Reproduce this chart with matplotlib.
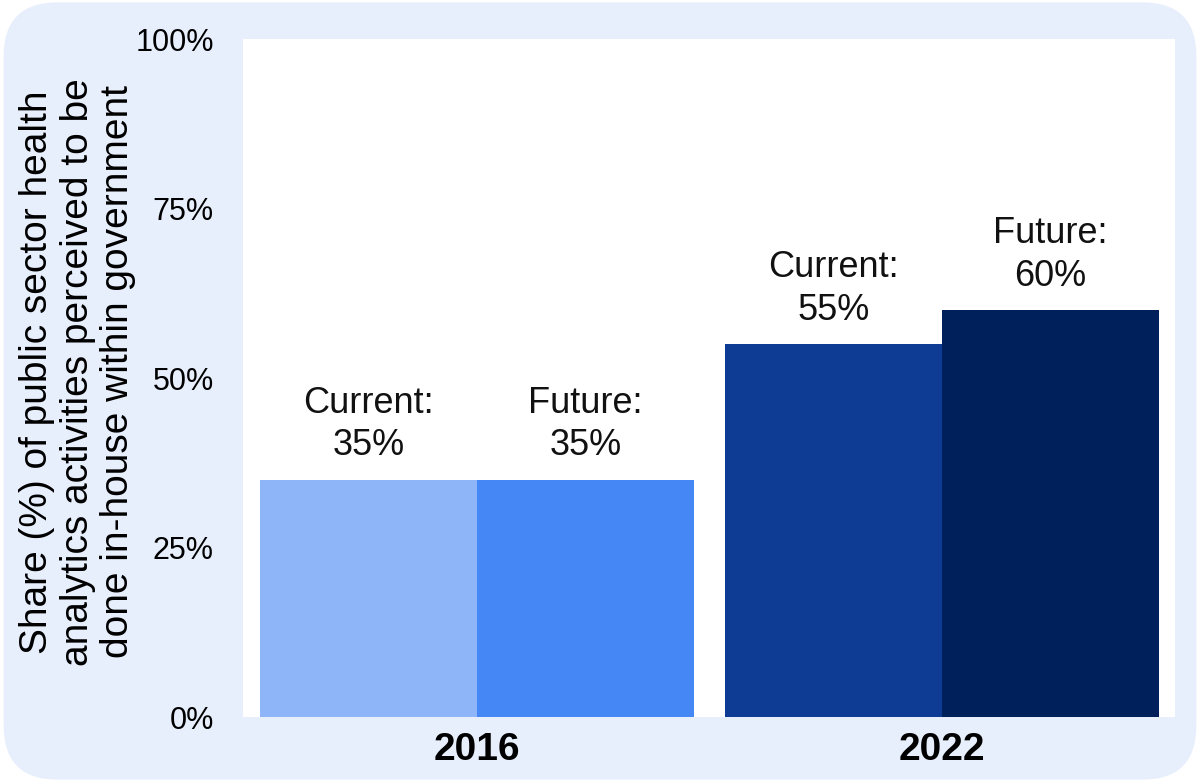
import numpy as np
import matplotlib.pyplot as plt
from matplotlib.patches import FancyBboxPatch

plt.rcParams['font.family'] = ['Liberation Sans', 'DejaVu Sans']

years = ['2016', '2022']
series = ['Current', 'Future']
current = [35, 55]
future = [35, 60]
colors = {
    '2016': ['#8fb5f9', '#4487f5'],
    '2022': ['#0e3c95', '#00205c'],
}

fig = plt.figure(figsize=(12, 7.82), dpi=100)
fig.patch.set_facecolor('white')
bg = FancyBboxPatch((0.003, 0.003), 0.994, 0.994,
                    boxstyle='round,pad=0,rounding_size=0.045',
                    transform=fig.transFigure, facecolor='#e8effc',
                    edgecolor='none', zorder=-10, mutation_aspect=1200 / 782)
fig.patches.append(bg)

ax = fig.add_axes([0.2025, 0.083, 0.7765, 0.867])
ax.set_facecolor('white')

x = np.arange(len(years))
width = 0.467
for i, yr in enumerate(years):
    vals = [current[i], future[i]]
    for j, name in enumerate(series):
        xpos = x[i] + (j - 0.5) * width
        ax.bar(xpos, vals[j], width, color=colors[yr][j], linewidth=0)
        ax.annotate(f'{name}:\n{vals[j]}%', (xpos, vals[j]),
                    xytext=(0, 12), textcoords='offset points',
                    ha='center', va='bottom', fontsize=26,
                    linespacing=1.27, color='#111111')

ax.set_xlim(-0.503, 1.501)
ax.set_ylim(0, 100)
ax.set_yticks([0, 25, 50, 75, 100])
ax.set_yticklabels(['0%', '25%', '50%', '75%', '100%'], fontsize=22)
ax.set_xticks(x)
ax.set_xticklabels(years, fontsize=28, fontweight='bold')
ax.tick_params(axis='both', length=0)
ax.tick_params(axis='y', pad=21)
ax.tick_params(axis='x', pad=11)
for s in ax.spines.values():
    s.set_visible(False)

ax.set_ylabel('Share (%) of public sector health\n'
              'analytics activities perceived to be\n'
              'done in-house within government',
              fontsize=28, linespacing=1.15)
ax.yaxis.set_label_coords(-0.115, 0.509)

fig.savefig('out.png', dpi=100, facecolor=fig.get_facecolor())
